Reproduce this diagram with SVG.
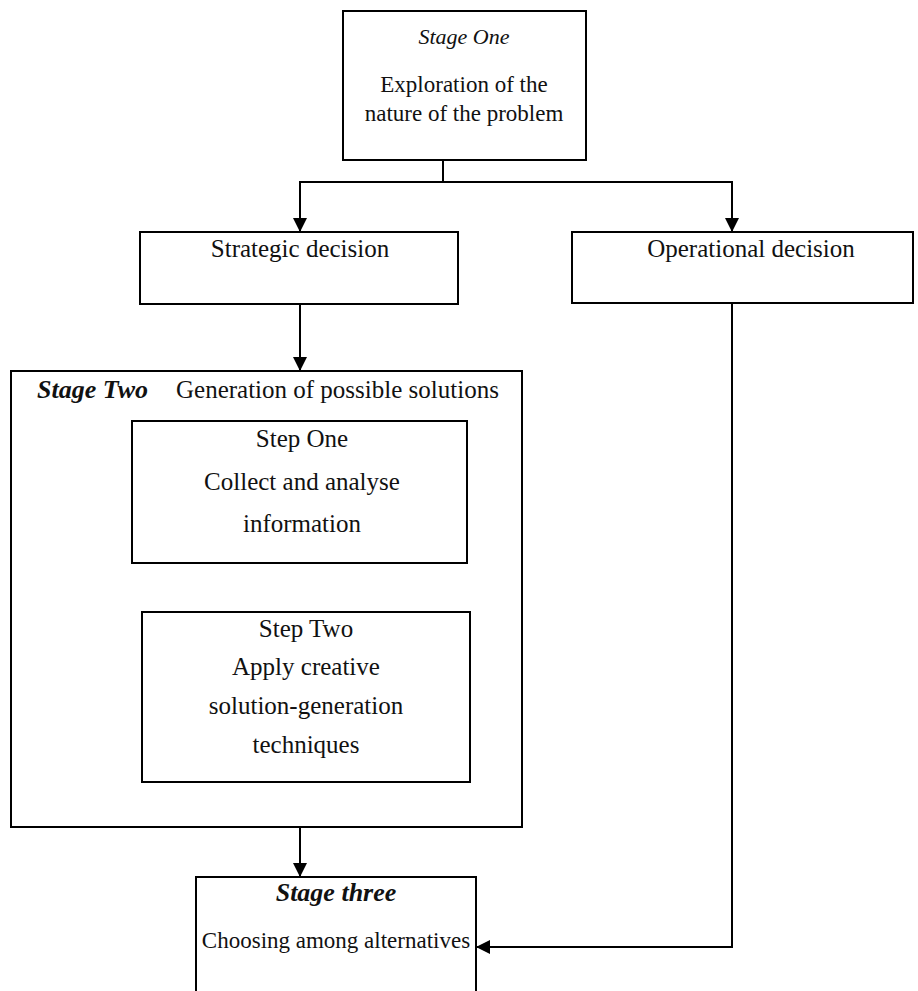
<svg xmlns="http://www.w3.org/2000/svg" width="918" height="991" viewBox="0 0 918 991">
  <style>
    .box { fill: #fff; stroke: #000; stroke-width: 2; }
    .wire { fill: none; stroke: #000; stroke-width: 2; }
    text { font-family: "Liberation Serif", "DejaVu Serif", serif; font-size: 25px; fill: #111; }
    .c { text-anchor: middle; }
    .top { font-size: 23px; }
    .it { font-style: italic; font-size: 22px; }
    .bi { font-style: italic; font-weight: bold; font-size: 26px; }
  </style>
  <defs>
    <marker id="arrow" markerWidth="14" markerHeight="14" refX="13" refY="7" orient="auto" markerUnits="userSpaceOnUse">
      <path d="M0,0 L14,7 L0,14 Z" fill="#000"/>
    </marker>
  </defs>
  <rect width="918" height="991" fill="#fff"/>

  <g id="connectors">
    <path class="wire" d="M443,160 V182 H300 V231" marker-end="url(#arrow)"/>
    <path class="wire" d="M443,182 H732 V231" marker-end="url(#arrow)"/>
    <path class="wire" d="M300,298 V370" marker-end="url(#arrow)"/>
    <path class="wire" d="M299,565 V611" marker-end="url(#arrow)"/>
    <path class="wire" d="M300,827 V876" marker-end="url(#arrow)"/>
    <path class="wire" d="M732,298 V947 H477" marker-end="url(#arrow)"/>
  </g>

  <g id="stage-one">
    <rect class="box" x="343" y="11" width="243" height="149"/>
    <text class="c it" x="464" y="44">Stage One</text>
    <text class="c top" x="464" y="92">Exploration of the</text>
    <text class="c top" x="464" y="121">nature of the problem</text>
  </g>

  <g id="strategic">
    <rect class="box" x="140" y="232" width="318" height="72"/>
    <text class="c" x="300" y="257">Strategic decision</text>
  </g>

  <g id="operational">
    <rect class="box" x="572" y="232" width="341" height="71"/>
    <text class="c" x="751" y="257">Operational decision</text>
  </g>

  <g id="stage-two">
    <rect class="box" x="11" y="371" width="511" height="456"/>
    <text x="37" y="398"><tspan class="bi">Stage Two</tspan><tspan dx="28">Generation of possible solutions</tspan></text>
  </g>

  <g id="step-one">
    <rect class="box" x="132" y="421" width="335" height="142"/>
    <text class="c" x="302" y="447">Step One</text>
    <text class="c" x="302" y="490">Collect and analyse</text>
    <text class="c" x="302" y="532">information</text>
  </g>

  <g id="step-two">
    <rect class="box" x="142" y="612" width="328" height="170"/>
    <text class="c" x="306" y="637">Step Two</text>
    <text class="c" x="306" y="675">Apply creative</text>
    <text class="c" x="306" y="714">solution-generation</text>
    <text class="c" x="306" y="753">techniques</text>
  </g>

  <g id="stage-three">
    <rect class="box" x="196" y="877" width="280" height="130"/>
    <text class="c bi" x="336" y="901">Stage three</text>
    <text class="c top" x="336" y="948">Choosing among alternatives</text>
  </g>
</svg>
